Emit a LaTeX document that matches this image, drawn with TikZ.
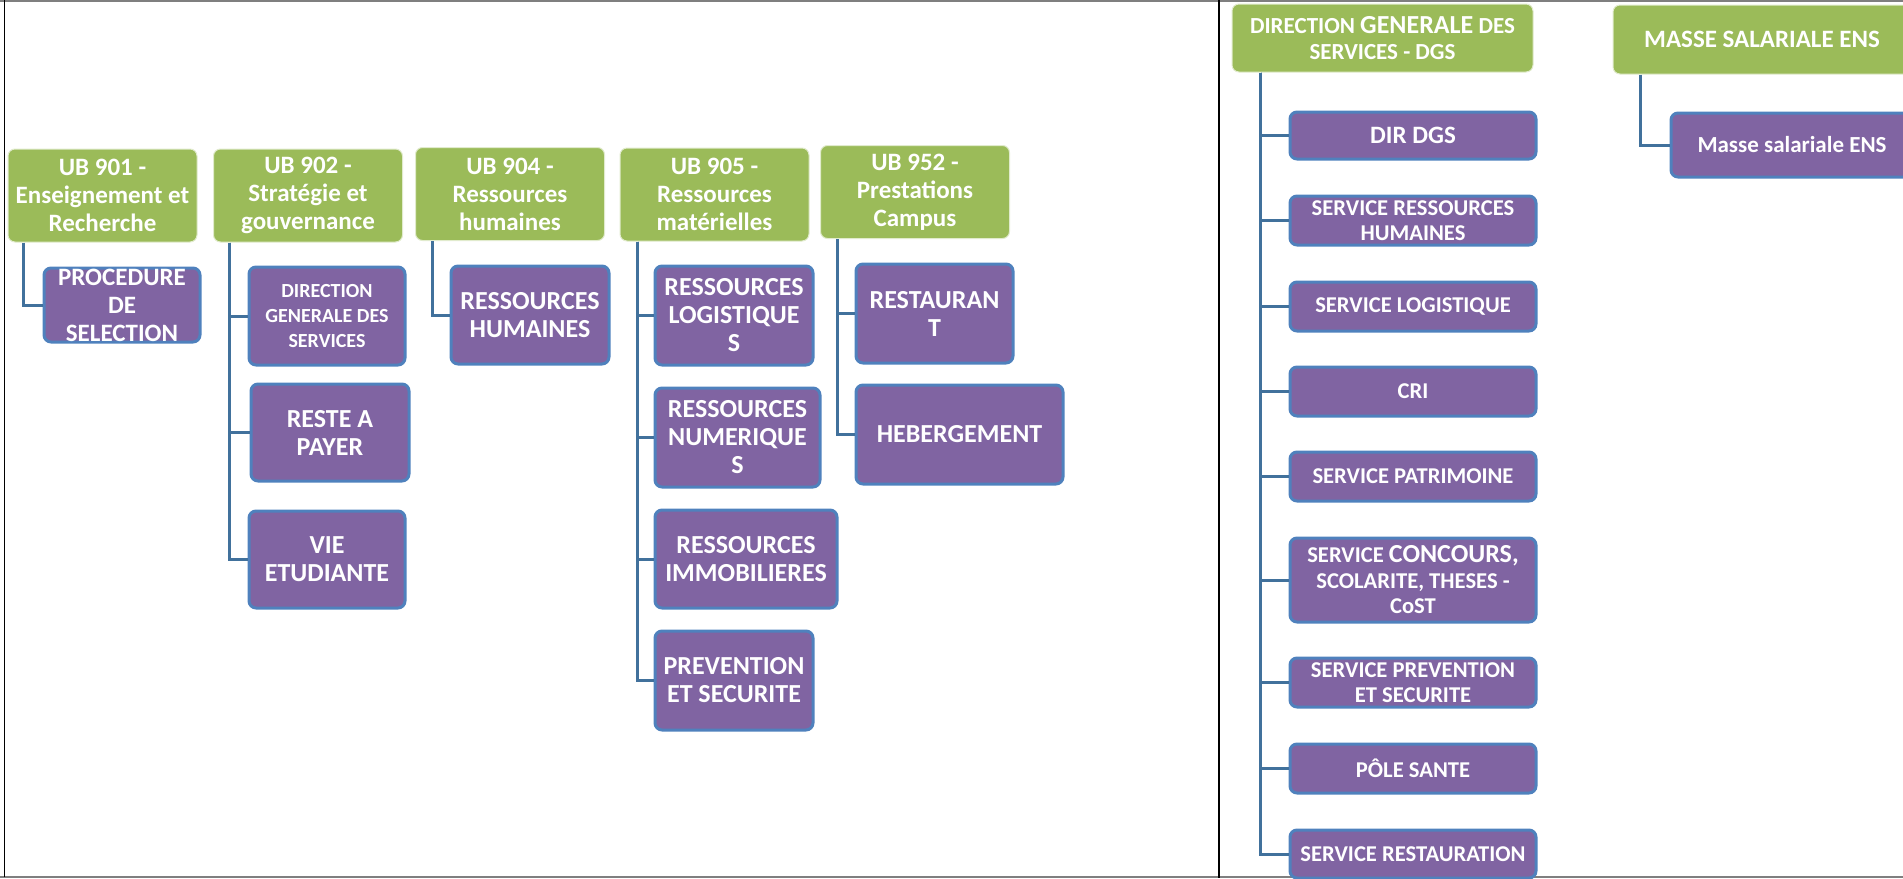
\documentclass[tikz,border=0pt]{standalone}
\usepackage{fontspec}
\setmainfont{Carlito}
\definecolor{ubgreen}{HTML}{9BBB59}
\definecolor{svcpurple}{HTML}{8064A2}
\definecolor{svcblue}{HTML}{4F81BD}
\definecolor{linkblue}{HTML}{41719C}
\definecolor{framegray}{HTML}{7F7F7F}
\newcommand{\fs}[2]{\fontsize{#1}{#2}\selectfont}

\begin{document}
\begin{tikzpicture}[x=0.5pt, y=-0.5pt
    , ub/.style = {rectangle,rounded corners=3.5pt,fill=ubgreen,draw=white!70!ubgreen,line width=0.5pt,
                   text=white,font=\bfseries\fs{12.5}{14},align=center,inner sep=0pt,
                   minimum width=94.5pt,minimum height=46.5pt}
    , svc/.style = {rectangle,rounded corners=3.5pt,fill=svcpurple,draw=svcblue,line width=1.5pt,
                    text=white,font=\bfseries\fs{13}{14},align=center,inner sep=0pt}
    , link/.style = {draw=linkblue,line width=1.5pt}
]
\useasboundingbox (0,0) rectangle (1903,879);
% frame
\draw[framegray,line width=1pt] (0,1) -- (1903,1);
\draw[framegray,line width=1pt] (0,877) -- (1903,877);
\draw[black,line width=0.6pt] (4.5,0) -- (4.5,877);
\draw[black,line width=0.6pt] (1219,0) -- (1219,878);

% left panel: UB
\node[ub] (ub901) at (102.5,195.5) {UB 901 -\\Enseignement et\\Recherche};
\node[ub] (ub902) at (308,195.5) {UB 902 -\\Stratégie et\\gouvernance};
\node[ub] (ub904) at (510,194) {UB 904 -\\Ressources\\humaines};
\node[ub] (ub905) at (714.5,194.5) {UB 905 -\\Ressources\\matérielles};
\node[ub] (ub952) at (915,192) {UB 952 -\\Prestations\\Campus};

\node[svc,minimum width=78pt,minimum height=37pt,font=\bfseries\fs{12.5}{14}] (proc) at (122,305) {PROCEDURE\\DE\\SELECTION};
\node[svc,minimum width=78pt,minimum height=49pt,font=\bfseries\fs{10}{12.5}] (dirgen) at (327,316) {DIRECTION\\GENERALE DES\\SERVICES};
\node[svc,minimum width=79pt,minimum height=48.5pt] (reste) at (330,432.5) {RESTE A\\PAYER};
\node[svc,minimum width=78pt,minimum height=48.5pt] (vie) at (327,559.5) {VIE\\ETUDIANTE};
\node[svc,minimum width=79pt,minimum height=49pt] (rh) at (530,315) {RESSOURCES\\HUMAINES};
\node[svc,minimum width=79pt,minimum height=49.5pt] (logi) at (734,315.5) {RESSOURCES\\LOGISTIQUE\\S};
\node[svc,minimum width=82.5pt,minimum height=49.5pt] (numq) at (737.5,437.5) {RESSOURCES\\NUMERIQUE\\S};
\node[svc,minimum width=91pt,minimum height=49pt] (immo) at (746,559) {RESSOURCES\\IMMOBILIERES};
\node[svc,minimum width=79pt,minimum height=49.5pt] (prev) at (734,680.5) {PREVENTION\\ET SECURITE};
\node[svc,minimum width=78.5pt,minimum height=49.5pt] (resto) at (934.5,313.5) {RESTAURAN\\T};
\node[svc,minimum width=103.5pt,minimum height=49.5pt] (heb) at (959.5,434.5) {HEBERGEMENT};

\draw[link] ([xshift=8pt]ub901.south west) |- (proc.west);
\foreach \c in {dirgen, reste, vie}
    \draw[link] ([xshift=8pt]ub902.south west) |- (\c.west);
\draw[link] ([xshift=8.5pt]ub904.south west) |- (rh.west);
\foreach \c in {logi, numq, immo, prev}
    \draw[link] ([xshift=9pt]ub905.south west) |- (\c.west);
\foreach \c in {resto, heb}
    \draw[link] ([xshift=8.5pt]ub952.south west) |- (\c.west);

% right panel: DGS
\node[ub,minimum width=150.5pt,minimum height=34pt,font=\bfseries\fs{11.5}{13}] (dgs) at (1382.5,38)
    {DIRECTION {\fs{13}{13}GENERALE} DES\\SERVICES - DGS};
\node[ub,minimum width=149pt,minimum height=34.5pt,font=\bfseries\fs{12.5}{14}] (masse) at (1762,39.5) {MASSE SALARIALE ENS};
\node[svc,minimum width=121pt,minimum height=32pt,font=\bfseries\fs{11.5}{13}] (msal) at (1792,145) {Masse salariale ENS};
\draw[link] ([xshift=14pt]masse.south west) |- (msal.west);

\foreach \y/\h/\txt [count=\k] in {
    135.5/23.5/{\fs{12.5}{14}DIR DGS},
    220.5/24.5/{SERVICE RESSOURCES\\HUMAINES},
    306.5/24.5/{SERVICE LOGISTIQUE},
    391.5/24.5/{CRI},
    476.5/24.5/{SERVICE PATRIMOINE},
    580/42/{SERVICE {\fs{13}{13}CONCOURS,}\\SCOLARITE, THESES -\\CoST},
    682.5/24.5/{SERVICE PREVENTION\\ET SECURITE},
    768.5/24.5/{PÔLE SANTE},
    854/24/{SERVICE RESTAURATION}}
{
    \node[svc,minimum width=123pt,minimum height=\h pt,font=\bfseries\fs{11.3}{12.75}] (s\k) at (1413,\y) {\txt};
    \draw[link] ([xshift=14.5pt]dgs.south west) |- (s\k.west);
}
\end{tikzpicture}
\end{document}
